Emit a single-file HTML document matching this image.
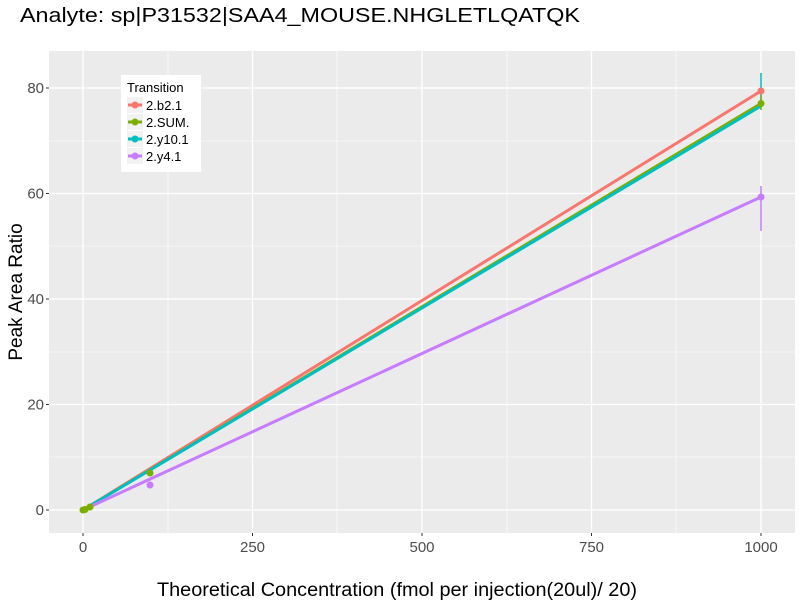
<!DOCTYPE html>
<html><head><style>body{margin:0;background:#fff}svg text{font-family:"Liberation Sans",sans-serif}</style></head><body>
<svg width="800" height="600" xmlns="http://www.w3.org/2000/svg">
<text x="20" y="22" font-size="20" fill="#000" textLength="560" lengthAdjust="spacingAndGlyphs">Analyte: sp|P31532|SAA4_MOUSE.NHGLETLQATQK</text>
<rect x="49" y="51" width="746" height="482" fill="#ebebeb"/>
<g stroke="#fff" stroke-width="0.6">
<line x1="49" x2="795" y1="457" y2="457"/><line x1="49" x2="795" y1="352" y2="352"/><line x1="49" x2="795" y1="246" y2="246"/><line x1="49" x2="795" y1="141" y2="141"/>
<line y1="51" y2="533" x1="168" x2="168"/><line y1="51" y2="533" x1="337" x2="337"/><line y1="51" y2="533" x1="507" x2="507"/><line y1="51" y2="533" x1="676" x2="676"/>
</g>
<g stroke="#fff" stroke-width="1.3">
<line x1="49" x2="795" y1="510" y2="510"/><line x1="49" x2="795" y1="404.5" y2="404.5"/><line x1="49" x2="795" y1="299" y2="299"/><line x1="49" x2="795" y1="193.5" y2="193.5"/><line x1="49" x2="795" y1="88" y2="88"/>
<line y1="51" y2="533" x1="83" x2="83"/><line y1="51" y2="533" x1="252.5" x2="252.5"/><line y1="51" y2="533" x1="422" x2="422"/><line y1="51" y2="533" x1="591.5" x2="591.5"/><line y1="51" y2="533" x1="761" x2="761"/>
</g>
<g stroke-width="3" fill="none">
<line x1="83" y1="510" x2="761" y2="91" stroke="#f8766d"/>
<line x1="83" y1="510" x2="761" y2="103.5" stroke="#7cae00"/>
<line x1="83" y1="510" x2="761" y2="106" stroke="#00bfc4"/>
<line x1="83" y1="510" x2="761" y2="197" stroke="#c77cff"/>
</g>
<g stroke-width="1.5">
<line x1="761" x2="761" y1="73" y2="106" stroke="#00bfc4"/>
<line x1="761" x2="761" y1="95" y2="110" stroke="#7cae00"/>
<line x1="761" x2="761" y1="186" y2="231" stroke="#c77cff"/>
</g>
<circle cx="761" cy="91" r="3.5" fill="#f8766d"/>
<circle cx="761" cy="103.5" r="3.5" fill="#7cae00"/>
<circle cx="761" cy="197" r="3.5" fill="#c77cff"/>
<circle cx="150" cy="473" r="3.5" fill="#7cae00"/>
<circle cx="150" cy="485" r="3.5" fill="#c77cff"/>
<circle cx="83" cy="510" r="3.5" fill="#7cae00"/><circle cx="85" cy="509.5" r="3.5" fill="#7cae00"/><circle cx="90" cy="507" r="3.5" fill="#7cae00"/>
<g font-size="15" fill="#4d4d4d" text-anchor="end">
<text x="44" y="515">0</text><text x="44" y="409.5">20</text><text x="44" y="304">40</text><text x="44" y="198.5">60</text><text x="44" y="93">80</text>
</g>
<g stroke="#333" stroke-width="1"><line x1="46" x2="49" y1="510" y2="510"/><line x1="46" x2="49" y1="404.5" y2="404.5"/><line x1="46" x2="49" y1="299" y2="299"/><line x1="46" x2="49" y1="193.5" y2="193.5"/><line x1="46" x2="49" y1="88" y2="88"/>
<line y1="533" y2="536" x1="83" x2="83"/><line y1="533" y2="536" x1="252.5" x2="252.5"/><line y1="533" y2="536" x1="422" x2="422"/><line y1="533" y2="536" x1="591.5" x2="591.5"/><line y1="533" y2="536" x1="761" x2="761"/></g>
<g font-size="15" fill="#4d4d4d" text-anchor="middle">
<text x="83" y="552">0</text><text x="252.5" y="552">250</text><text x="422" y="552">500</text><text x="591.5" y="552">750</text><text x="761" y="552">1000</text>
</g>
<text x="157" y="596" font-size="19" textLength="480" lengthAdjust="spacingAndGlyphs">Theoretical Concentration (fmol per injection(20ul)/ 20)</text>
<text transform="translate(22,292) rotate(-90)" font-size="19" text-anchor="middle">Peak Area Ratio</text>
<rect x="121" y="75" width="80" height="97" fill="#fff"/>
<text x="127" y="92" font-size="13">Transition</text>
<g font-size="13">
<rect x="127" y="97" width="16" height="16" fill="#f2f2f2"/><rect x="127" y="114" width="16" height="16" fill="#f2f2f2"/><rect x="127" y="131" width="16" height="16" fill="#f2f2f2"/><rect x="127" y="148" width="16" height="16" fill="#f2f2f2"/>
<line x1="128" x2="142" y1="105" y2="105" stroke="#f8766d" stroke-width="3"/><circle cx="135" cy="105" r="3.5" fill="#f8766d"/><text x="146" y="110">2.b2.1</text>
<line x1="128" x2="142" y1="122" y2="122" stroke="#7cae00" stroke-width="3"/><circle cx="135" cy="122" r="3.5" fill="#7cae00"/><text x="146" y="127">2.SUM.</text>
<line x1="128" x2="142" y1="139" y2="139" stroke="#00bfc4" stroke-width="3"/><circle cx="135" cy="139" r="3.5" fill="#00bfc4"/><text x="146" y="144">2.y10.1</text>
<line x1="128" x2="142" y1="156" y2="156" stroke="#c77cff" stroke-width="3"/><circle cx="135" cy="156" r="3.5" fill="#c77cff"/><text x="146" y="161">2.y4.1</text>
</g>
</svg>
</body></html>
